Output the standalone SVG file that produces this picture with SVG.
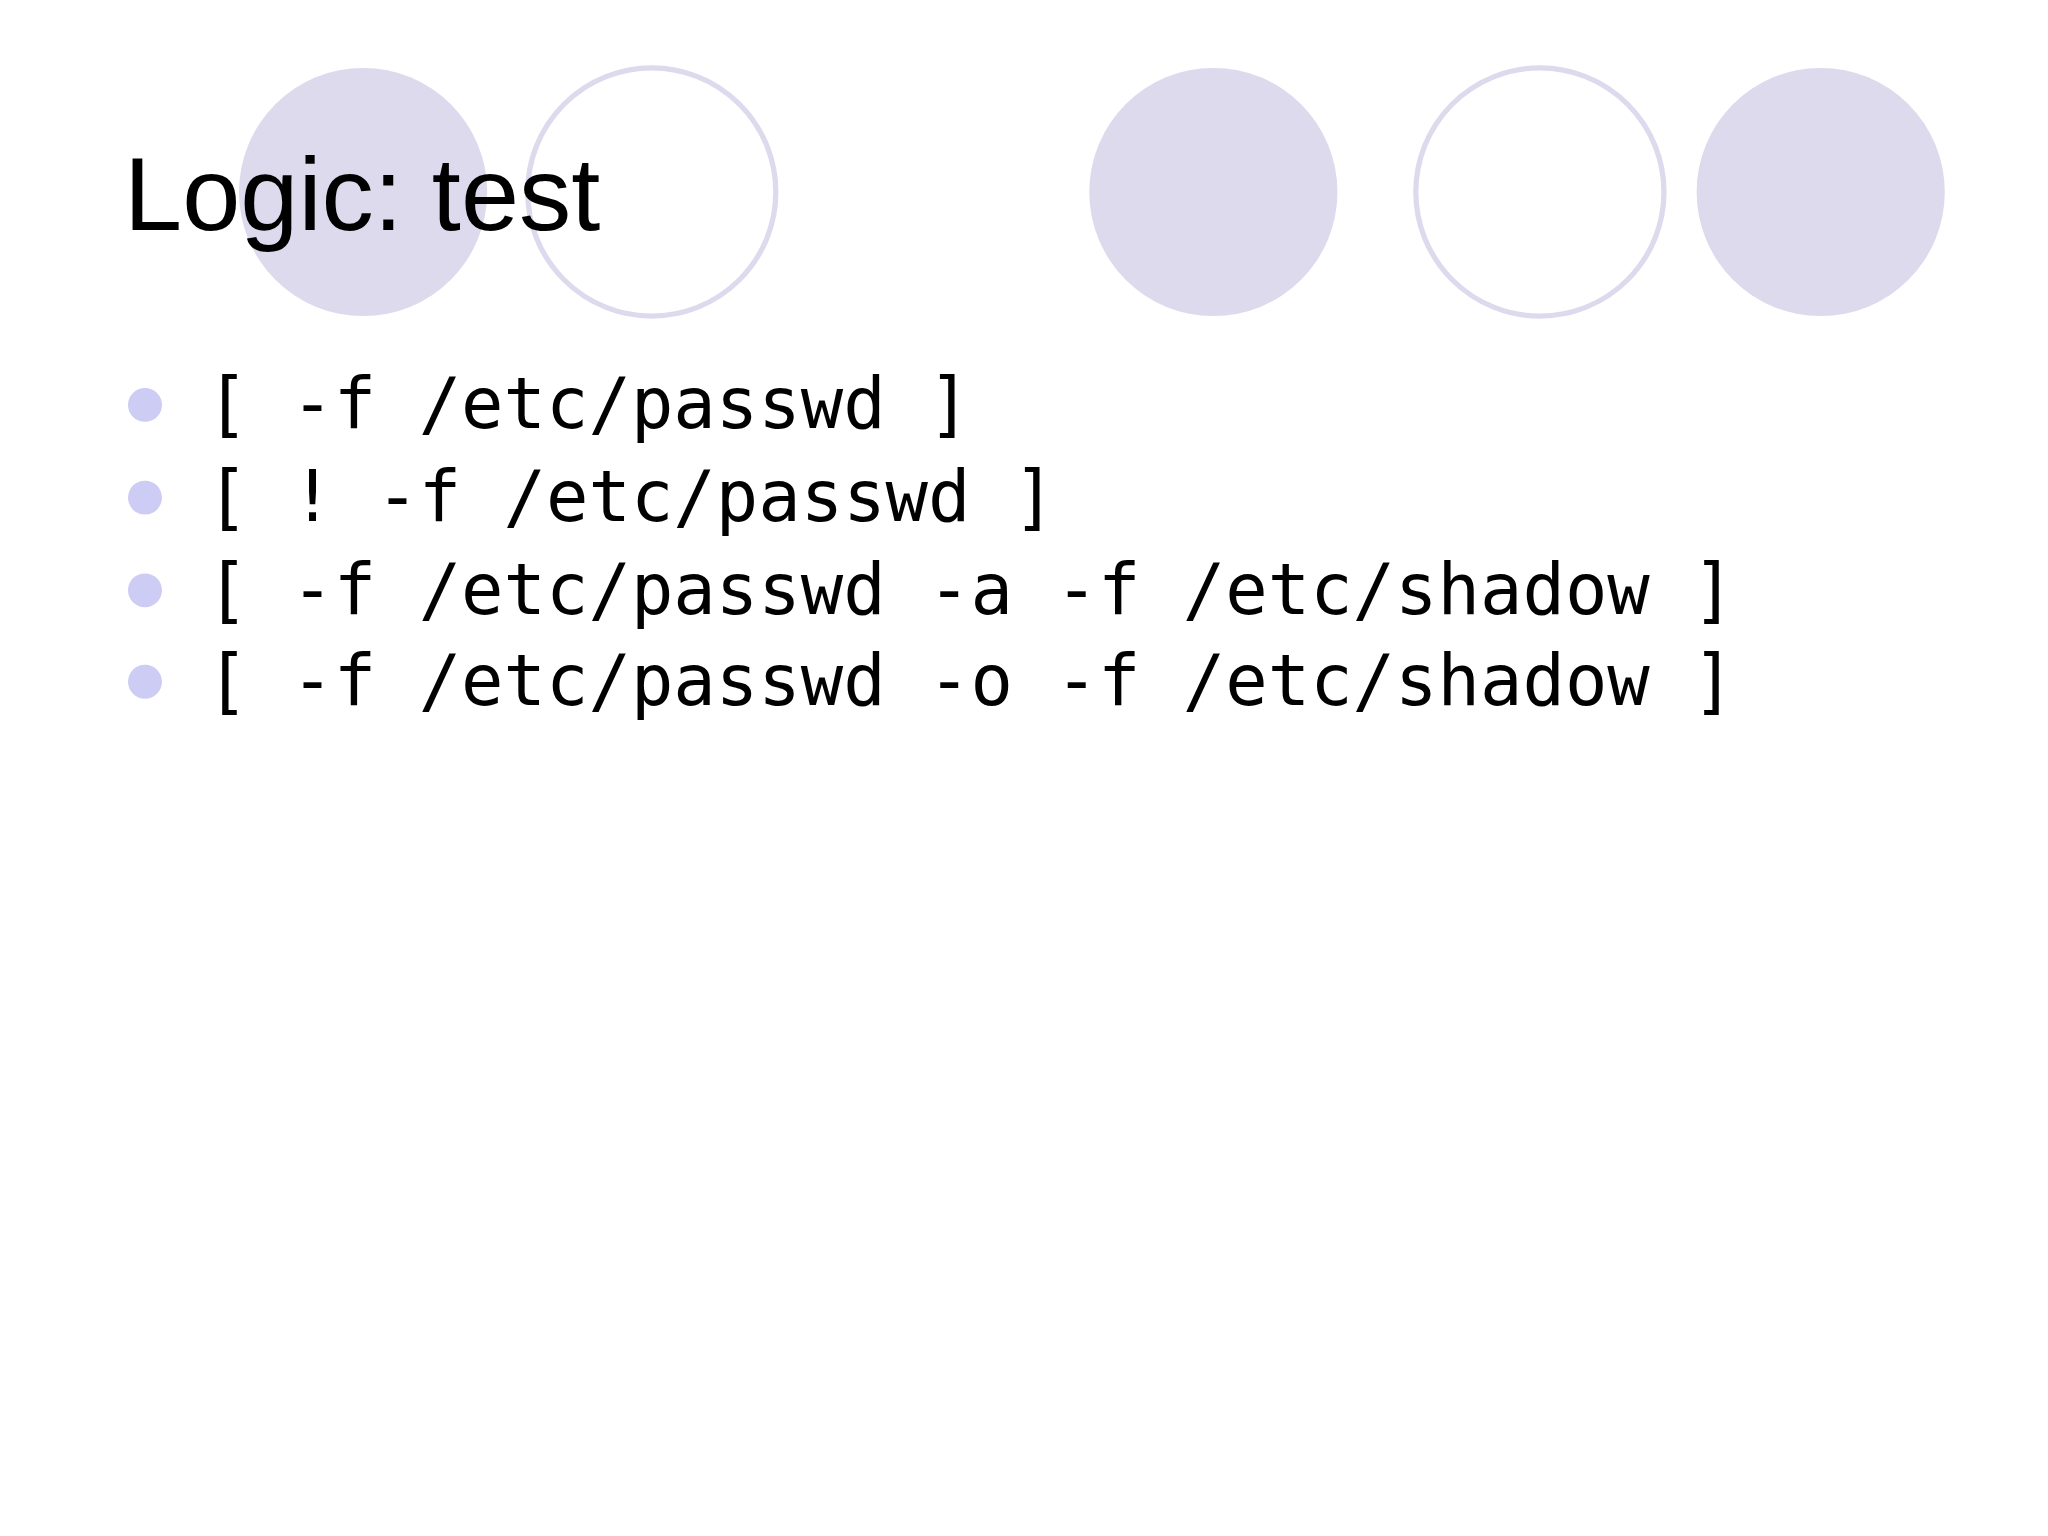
<svg xmlns="http://www.w3.org/2000/svg" width="2048" height="1536" viewBox="0 0 2048 1536">
<style>
.f{fill:#dcdaec}
.o{fill:#fff;stroke:#dcdaec;stroke-width:4}
.b{fill:#ccccf5}
.c{font-family:"DejaVu Sans Mono",monospace;font-size:54px;fill:#000}
</style>
<rect width="2048" height="1536" fill="#fff"/>
<g transform="scale(1.3061)">
<g id="circles">
<circle class="f" cx="278" cy="147" r="95"/>
<circle class="o" cx="499" cy="147" r="95"/>
<circle class="f" cx="929" cy="147" r="95"/>
<circle class="o" cx="1179" cy="147" r="95"/>
<circle class="f" cx="1394" cy="147" r="95"/>
</g>
<text id="title" x="95" y="176" font-family="Liberation Sans, Arial, sans-serif" font-size="80">Logic: test</text>
<g id="bullets">
<circle class="b" cx="111" cy="310" r="13"/>
<circle class="b" cx="111" cy="381" r="13"/>
<circle class="b" cx="111" cy="452" r="13"/>
<circle class="b" cx="111" cy="522" r="13"/>
<text class="c" x="158" y="328" xml:space="preserve">[ -f /etc/passwd ]</text>
<text class="c" x="158" y="399" xml:space="preserve">[ ! -f /etc/passwd ]</text>
<text class="c" x="158" y="470" xml:space="preserve">[ -f /etc/passwd -a -f /etc/shadow ]</text>
<text class="c" x="158" y="540" xml:space="preserve">[ -f /etc/passwd -o -f /etc/shadow ]</text>
</g>
</g>
</svg>
